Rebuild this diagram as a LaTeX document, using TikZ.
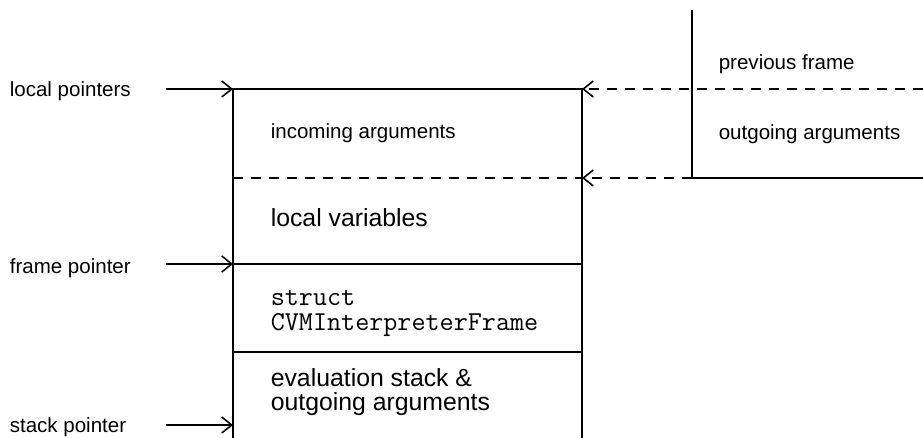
\documentclass[tikz,border=0pt]{standalone}
\usepackage{fontspec}
\setmainfont{Liberation Sans}
\usetikzlibrary{arrows.meta}

\begin{document}
\begin{tikzpicture}[x=0.75pt, y=-0.75pt, line width=1.2pt,
        every node/.style={anchor=base west, inner sep=0pt,
        font=\fontsize{15.4}{18}\selectfont},
        big/.style={font=\fontsize{18.6}{17.3}\selectfont, align=left},
        mono/.style={font=\fontsize{20.5}{19}\ttfamily},
        ptr/.style={-{Straight Barb[length=7.5pt, width=12pt]}},
        dsh/.style={dash pattern=on 7.5pt off 6pt}]
        \useasboundingbox (0,0) rectangle (923,438);

        % current frame
        \coordinate (TL) at (233,89);
        \coordinate (TR) at (582,89);
        \coordinate (BL) at (233,438);
        \coordinate (BR) at (582,438);
        \coordinate (ML) at (233,178);
        \coordinate (MR) at (582,178);
        \coordinate (FL) at (233,264);
        \coordinate (FR) at (582,264);
        \coordinate (SL) at (233,352);
        \coordinate (SR) at (582,352);
        \coordinate (SP) at (233,425);

        \draw (BL) -- (TL) -- (TR) -- (BR);
        \draw[dsh] (ML) -- (MR);
        \draw (FL) -- (FR);
        \draw (SL) -- (SR);

        \node (inc) at (270,139) {incoming arguments};
        \node[big] (loc) at (270,226) {local variables};
        \node[mono] (cvm1) at (270,305) {struct};
        \node[mono] (cvm2) at (270,330) {CVMInterpreterFrame};
        \node[big] (eval) at (270,410) {evaluation stack \&\\outgoing arguments};

        % previous frame
        \coordinate (PT) at (692,10);
        \coordinate (PB) at (692,178);
        \coordinate (PR) at (923,178);
        \coordinate (PD) at (923,89);

        \draw (PT) -- (PB) -- (PR);
        \node (prev) at (718,70) {previous frame};
        \node (out) at (718,140) {outgoing arguments};

        \draw[dsh, ptr] (PD) -- (TR);
        \draw[dsh, ptr] (PB) -- (MR);

        % pointers
        \node (lp) at (9,97) {local pointers};
        \node (fp) at (9,273) {frame pointer};
        \node (sp) at (9,432) {stack pointer};

        \coordinate (lps) at (166,89);
        \coordinate (fps) at (166,264);
        \coordinate (sps) at (166,425);

        \draw[ptr] (lps) -- (TL);
        \draw[ptr] (fps) -- (FL);
        \draw[ptr] (sps) -- (SP);
    \end{tikzpicture}
\end{document}
